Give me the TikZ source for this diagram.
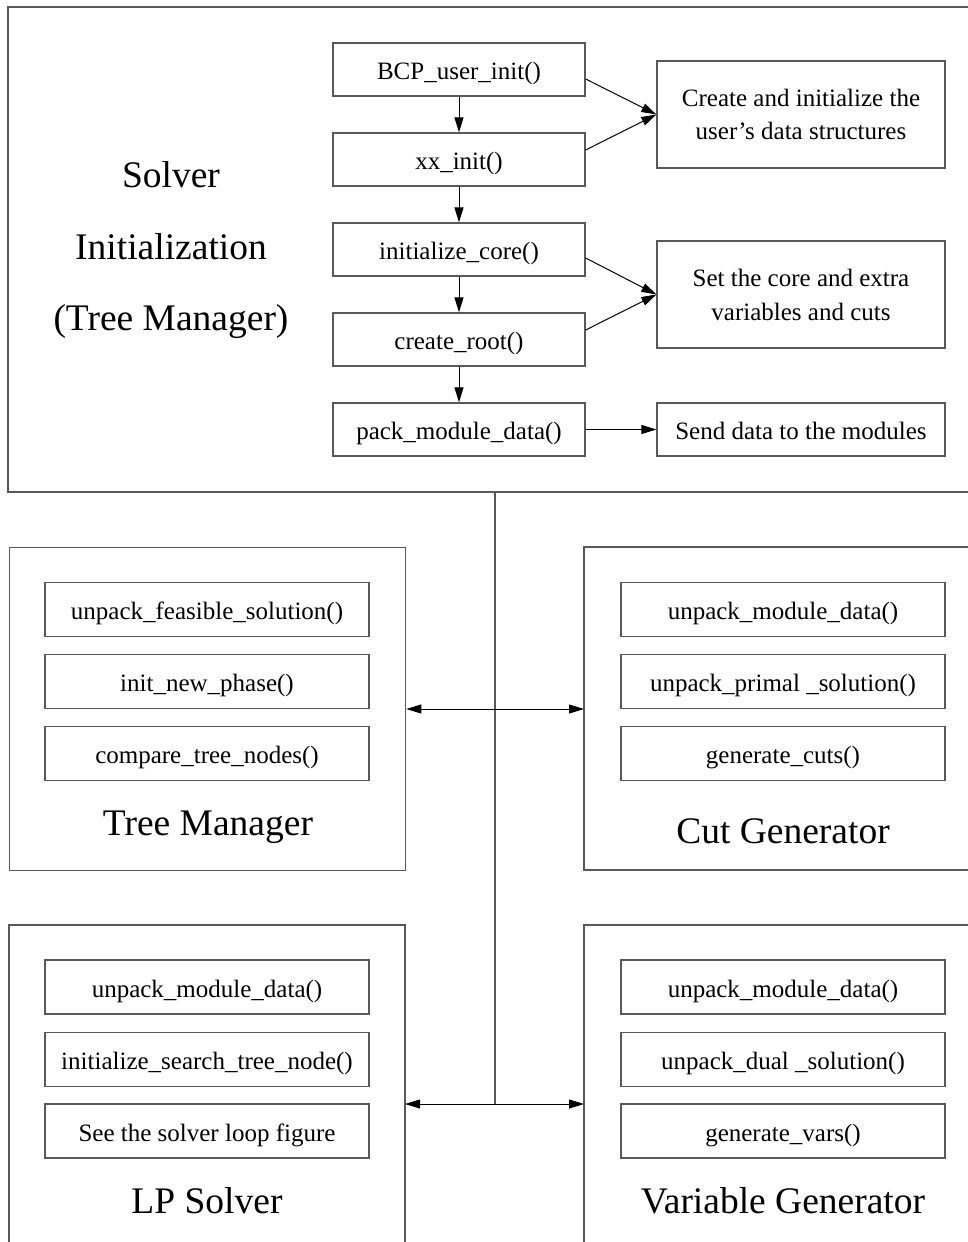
\documentclass[tikz,border=0pt]{standalone}
\usepackage{fontspec}
\setmainfont{Liberation Serif}
\usetikzlibrary{arrows.meta}
\tikzset{
  frameline/.style={draw=black!65, line width=1.3pt},
  fbox/.style={frameline, minimum width=252pt, minimum height=53pt, inner sep=0pt,
    text height=20pt, text depth=0pt, font=\fontsize{25}{30}\selectfont},
  nbox/.style={fbox, minimum width=288pt},
  mbox/.style={fbox, minimum width=324pt, minimum height=54pt},
  biglabel/.style={font=\fontsize{37.5}{72}\selectfont, inner sep=0pt, anchor=base},
  arr/.style={-{Triangle[length=15pt,width=9pt]}, line width=1pt, black},
  darr/.style={{Triangle[length=15pt,width=9pt]}-{Triangle[length=15pt,width=9pt]}, line width=1pt, black}
}
\begin{document}
\begin{tikzpicture}[x=1pt,y=-1pt]
\path[use as bounding box] (0,0) rectangle (968,1242);
\clip (0,0) rectangle (968,1242);
\fill[white] (0,0) rectangle (968,1242);

% top frame (right side cut off)
\draw[frameline] (980,7) -| (8,492) -- (980,492);

\node[biglabel] (t1) at (171,187) {Solver};
\node[biglabel] (t2) at (171,259) {Initialization};
\node[biglabel] (t3) at (171,330) {(Tree Manager)};

\node[fbox] (bcp) at (459,69.5) {BCP\_user\_init()};
\node[fbox] (xx) at (459,159.5) {xx\_init()};
\node[fbox] (icore) at (459,249.5) {initialize\_core()};
\node[fbox] (root) at (459,339.5) {create\_root()};
\node[fbox] (pack) at (459,429.5) {pack\_module\_data()};

\node[nbox, minimum height=107pt, text height=, text depth=, align=center,
  font=\fontsize{25}{33}\selectfont] (create) at (801,114.5)
  {Create and initialize the\\user’s data structures};
\node[nbox, minimum height=107pt, text height=, text depth=, align=center,
  font=\fontsize{25}{34}\selectfont] (setc) at (801,294.5)
  {Set the core and extra\\variables and cuts};
\node[nbox] (send) at (801,429.5) {Send data to the modules};

\draw[arr] (bcp) -- (xx);
\draw[arr] (xx) -- (icore);
\draw[arr] (icore) -- (root);
\draw[arr] (root) -- (pack);
\draw[arr] ([yshift=-9.5pt]bcp.east) -- (create.west);
\draw[arr] ([yshift=9.5pt]xx.east) -- (create.west);
\draw[arr] ([yshift=-8.5pt]icore.east) -- (setc.west);
\draw[arr] ([yshift=9.5pt]root.east) -- (setc.west);
\draw[arr] (pack) -- (send);

% module frames
\node[frameline, minimum width=396pt, minimum height=323pt, inner sep=0pt, anchor=north west] (tm) at (9,547) {};
\draw[frameline] (980,547) -| (584,870) -- (980,870);
\draw[frameline] (9,1260) |- (405,925) -- (405,1260);
\draw[frameline] (980,925) -| (584,1260);

% Tree Manager
\node[mbox] (tm1) at (207,609.5) {unpack\_feasible\_solution()};
\node[mbox] (tm2) at (207,681.5) {init\_new\_phase()};
\node[mbox] (tm3) at (207,753.5) {compare\_tree\_nodes()};
\node[biglabel] (tml) at (208,835) {Tree Manager};

% Cut Generator
\node[mbox] (cg1) at (783,609.5) {unpack\_module\_data()};
\node[mbox] (cg2) at (783,681.5) {unpack\_primal \_solution()};
\node[mbox] (cg3) at (783,753.5) {generate\_cuts()};
\node[biglabel] (cgl) at (783,843) {Cut Generator};

% LP Solver
\node[mbox] (lp1) at (207,987) {unpack\_module\_data()};
\node[mbox] (lp2) at (207,1059.5) {initialize\_search\_tree\_node()};
\node[mbox] (lp3) at (207,1131) {See the solver loop figure};
\node[biglabel] (lpl) at (207,1213) {LP Solver};

% Variable Generator
\node[mbox] (vg1) at (783,987) {unpack\_module\_data()};
\node[mbox] (vg2) at (783,1059.5) {unpack\_dual \_solution()};
\node[mbox] (vg3) at (783,1131) {generate\_vars()};
\node[biglabel] (vgl) at (783,1213) {Variable Generator};

% bus
\coordinate (jtop) at (495,492);
\coordinate (j1) at (495,709);
\coordinate (j2) at (495,1104);
\coordinate (cgW) at (584,709);
\coordinate (lpE) at (405,1104);
\coordinate (vgW) at (584,1104);
\draw[frameline] (jtop) -- (j2);
\draw[darr] (tm.east |- j1) -- (cgW);
\draw[darr] (lpE) -- (vgW);
\end{tikzpicture}
\end{document}
